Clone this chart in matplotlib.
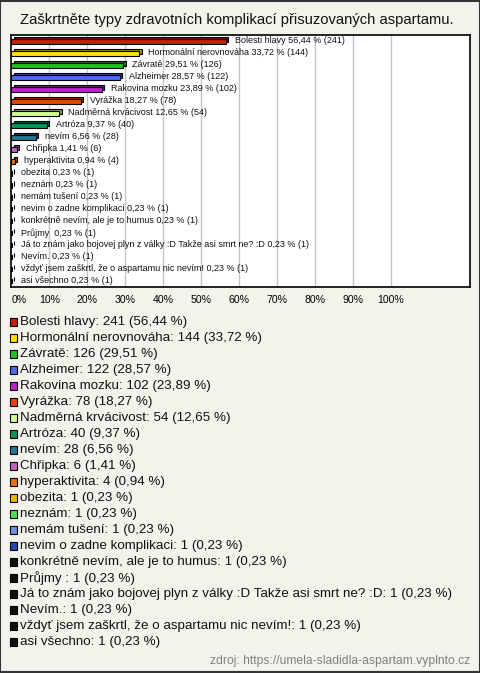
import matplotlib
matplotlib.use("Agg")
import matplotlib.pyplot as plt
from matplotlib.patches import Rectangle
import matplotlib.colors as mcolors

plt.rcParams['font.family'] = ['Liberation Sans', 'DejaVu Sans']

title = "Zaškrtněte typy zdravotních komplikací přisuzovaných aspartamu."
categories = [
    "Bolesti hlavy", "Hormonální nerovnováha", "Závratě", "Alzheimer",
    "Rakovina mozku", "Vyrážka", "Nadměrná krvácivost", "Artróza", "nevím",
    "Chřipka", "hyperaktivita", "obezita", "neznám", "nemám tušení",
    "nevim o zadne komplikaci", "konkrétně nevím, ale je to humus",
    "Průjmy ", "Já to znám jako bojovej plyn z války :D Takže asi smrt ne? :D",
    "Nevím.", "vždyť jsem zaškrtl, že o aspartamu nic nevím!", "asi všechno",
]
counts = [241, 144, 126, 122, 102, 78, 54, 40, 28, 6, 4, 1, 1, 1, 1, 1, 1, 1, 1, 1, 1]
percents = [56.44, 33.72, 29.51, 28.57, 23.89, 18.27, 12.65, 9.37, 6.56, 1.41, 0.94,
            0.23, 0.23, 0.23, 0.23, 0.23, 0.23, 0.23, 0.23, 0.23, 0.23]
colors = ["#c41e0c", "#ffe000", "#1ec21e", "#4a6ee6", "#c21ed2", "#e8420e",
          "#d2ff8c", "#0e925a", "#1e7890", "#c462c4", "#e8720e", "#e6b800",
          "#4ee04e", "#7090e2", "#2848b8", "#111111", "#111111", "#111111",
          "#111111", "#111111", "#111111"]
xticks = [0, 10, 20, 30, 40, 50, 60, 70, 80, 90, 100]
xtick_labels = ["0%", "10%", "20%", "30%", "40%", "50%", "60%", "70%", "80%", "90%", "100%"]
source = "zdroj: https://umela-sladidla-aspartam.vyplnto.cz"

W, H = 480, 673
bg = "#f3f3eb"
fig = plt.figure(figsize=(W / 100, H / 100), dpi=100, facecolor=bg)

def fx(px):
    return px / W

def fy(py):
    return 1 - py / H

ax_left, ax_right, ax_top, ax_bottom = 11.3, 470.3, 35.0, 286.7
ax = fig.add_axes([fx(ax_left), fy(ax_bottom), fx(ax_right - ax_left), (ax_bottom - ax_top) / H])
ax.set_facecolor("white")
n = len(categories)
xmax = (ax_right - ax_left) / 37.97 * 10
ax.set_xlim(0, xmax)
ax.set_ylim(n - 0.5, -0.5)
for s in ax.spines.values():
    s.set_color("black")
    s.set_linewidth(1.2)
for t in xticks[1:]:
    ax.axvline(t, color="#c4c4c4", lw=1, zorder=0)

px_x = xmax / (ax_right - ax_left)
px_y = n / (ax_bottom - ax_top)
dx, dy = 2.2 * px_x, 2.0 * px_y
h = 4.8 * px_y
ys = list(range(n))
shadow = [tuple(c * 0.6 for c in mcolors.to_rgb(col)) for col in colors]
ax.barh([y - dy + 0.3 * px_y for y in ys], percents, height=h, left=dx,
        color=shadow, edgecolor="black", linewidth=0.8, zorder=2)
ax.barh([y + 0.3 * px_y for y in ys], percents, height=h, left=0,
        color=colors, edgecolor="black", linewidth=0.8, zorder=3)
for y, p, c, cat in zip(ys, percents, counts, categories):
    ax.annotate(f"{cat} " + f"{p:.2f}".replace(".", ",") + f" % ({c})",
                xy=(p, y), xytext=(9, 0), textcoords="offset pixels",
                ha="left", va="center", fontsize=6.5, color="#111111", zorder=4)

ax.set_yticks([])
ax.set_xticks(xticks)
ax.set_xticklabels(xtick_labels, fontsize=7.6)
ax.tick_params(axis="x", length=0, pad=6)
ax.get_xticklabels()[0].set_ha("left")

fig.text(fx(237), fy(20), title, ha="center", va="center", fontsize=10.6, color="#111111")

# legend
y0, step = 321.7, 16.0
for i, (cat, c, p, col) in enumerate(zip(categories, counts, percents, colors)):
    yc = y0 + step * i
    fig.patches.append(Rectangle((fx(9.5), fy(yc + 3.8)), fx(7.6), 7.6 / H,
                                 transform=fig.transFigure, facecolor=col,
                                 edgecolor="black", linewidth=0.8))
    fig.text(fx(20), fy(yc), f"{cat}: {c} (" + f"{p:.2f}".replace(".", ",") + " %)",
             ha="left", va="center", fontsize=9.65, color="#111111")

fig.text(fx(470), fy(661), source, ha="right", va="center", fontsize=8.7, color="#808080")

fig.patches.append(Rectangle((0.001, 0.001), 0.998, 0.998, transform=fig.transFigure,
                             fill=False, edgecolor="#333333", linewidth=1.5))

fig.savefig("out.png", dpi=100, facecolor=bg)
